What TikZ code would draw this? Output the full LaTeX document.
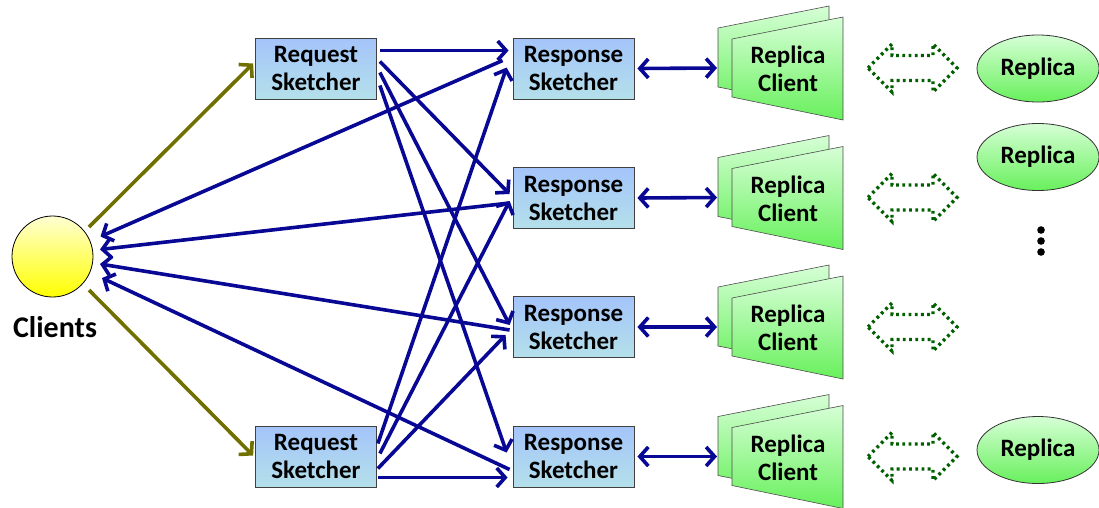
\documentclass[tikz,border=0pt]{standalone}
\usepackage{fontspec}
\setmainfont{Carlito}
\usetikzlibrary{arrows.meta,calc,shapes.geometric}

\definecolor{boxtop}{RGB}{164,196,250}
\definecolor{boxbot}{RGB}{180,224,234}
\definecolor{navy}{RGB}{8,8,148}
\definecolor{olivearrow}{RGB}{112,112,0}
\definecolor{greentop}{RGB}{214,255,214}
\definecolor{greenbot}{RGB}{104,240,92}
\definecolor{dotgreen}{RGB}{0,96,0}
\definecolor{sunlight}{RGB}{255,255,210}
\definecolor{sunyellow}{RGB}{255,255,0}

\tikzset{
  lbl/.style={font=\bfseries\fontsize{25}{28}\selectfont, align=center, inner sep=0pt},
  sketchbox/.style={lbl, draw=black!75, line width=0.8pt,
    top color=boxtop, bottom color=boxbot,
    minimum width=121pt, minimum height=61pt},
  barb/.tip={Straight Barb[length=8.5pt,width=19pt,line width=3.6pt]},
  bl/.style={draw=navy, line width=3.6pt, -barb},
  blboth/.style={draw=navy, line width=3.6pt, barb-barb},
  ol/.style={draw=olivearrow, line width=3.6pt,
    -{Straight Barb[length=8.5pt,width=19pt,line width=3.6pt]}},
  panel/.style={draw=black!70, line width=0.6pt, top color=greentop, bottom color=greenbot},
  replicanode/.style={lbl, ellipse, draw=black!80, line width=0.8pt,
    top color=greentop, bottom color=greenbot,
    minimum width=122pt, minimum height=67pt},
  dotarrow/.style={draw=dotgreen, line width=3.4pt, dash pattern=on 2.8pt off 3.4pt},
}

\begin{document}
\begin{tikzpicture}[x=1pt,y=-1pt]
\useasboundingbox (0,0) rectangle (1099,507);

% clients
\node[circle, draw=black, line width=0.8pt, top color=sunlight, bottom color=sunyellow,
      minimum size=81pt, inner sep=0pt] (cl) at (52.5,256.5) {};
\node[lbl, font=\bfseries\fontsize{30}{32}\selectfont] (cltext) at (55,327) {Clients};

% request sketchers
\node[sketchbox] (rq1) at (316,68.5) {Request\\Sketcher};
\node[sketchbox] (rq2) at (316,456.5) {Request\\Sketcher};

% response sketchers
\node[sketchbox] (rs1) at (573.5,68.5) {Response\\Sketcher};
\node[sketchbox] (rs2) at (573.5,198) {Response\\Sketcher};
\node[sketchbox] (rs3) at (573.5,327) {Response\\Sketcher};
\node[sketchbox] (rs4) at (573.5,456.5) {Response\\Sketcher};

% replica clients: two stacked panels each
\foreach \c/\n in {68/1,197.5/2,327/3,456.5/4}{
  \draw[panel] (718,\c-40) -- (829,\c-62) -- (829,\c+41) -- (718,\c+19) -- cycle;
  \draw[panel] (732,\c-29) -- (843,\c-51) -- (843,\c+52) -- (732,\c+29) -- cycle;
  \node[lbl] (rc\n) at (788,\c+1) {Replica\\Client};
  \coordinate (rcin\n) at (717,\c);
  % dotted double arrow towards the replicas
  \draw[dotarrow] (868,\c) -- (892,\c-24) -- (892,\c-12.5) -- (933,\c-12.5) -- (933,\c-24)
     -- (957,\c) -- (933,\c+24) -- (933,\c+12.5) -- (892,\c+12.5) -- (892,\c+24) -- cycle;
}

% replicas
\node[replicanode] (rp1) at (1038,68.5) {Replica};
\node[replicanode] (rp2) at (1038,157) {Replica};
\node[replicanode] (rp3) at (1038,450) {Replica};
\fill (1041,230) circle (3.8) (1041,241) circle (3.8) (1041,252) circle (3.8);

% clients to request sketchers
\draw[ol] ($(cl.center)+(36.5,-29.5)$) -- ($(rq1.west)+(-2,-5)$);
\draw[ol] ($(cl.center)+(36.5,33.5)$) -- ($(rq2.west)+(-2,-1)$);

% upper request sketcher to every response sketcher
\draw[bl] ($(rq1.east)+(3,-18)$) -- ($(rs1.west)+(-4,-18)$);
\draw[bl] ($(rq1.east)+(3,-7)$) -- ($(rs2.west)+(-3,-4)$);
\draw[bl] ($(rq1.east)+(3,4)$) -- ($(rs3.west)+(-3,-2)$);
\draw[bl] ($(rq1.east)+(3,17)$) -- ($(rs4.west)+(-6,-4)$);

% lower request sketcher to every response sketcher
\draw[bl] ($(rq2.east)+(1,-13)$) -- ($(rs1.west)+(-6,-1)$);
\draw[bl] ($(rq2.east)+(3,-3)$) -- ($(rs2.west)+(-3,3)$);
\draw[bl] ($(rq2.east)+(1,12)$) -- ($(rs3.west)+(-7,8)$);
\draw[bl] ($(rq2.east)+(1,21)$) -- ($(rs4.west)+(-5,21)$);

% response sketchers back to the clients
\draw[bl] ($(rs1.west)+(-10,-8)$) -- ($(cl.center)+(48,-20)$);
\draw[bl] ($(rs2.west)+(-3,5)$) -- ($(cl.center)+(47.5,-7)$);
\draw[bl] ($(rs3.west)+(-3,3)$) -- ($(cl.center)+(47.5,7.5)$);
\draw[bl] ($(rs4.west)+(-3,13)$) -- ($(cl.center)+(49.5,21.5)$);

% response sketchers to replica clients
\draw[blboth] ($(rs1.east)+(3,0)$) -- (rcin1);
\draw[blboth] ($(rs2.east)+(3,0)$) -- (rcin2);
\draw[blboth] ($(rs3.east)+(3,0)$) -- (rcin3);
\draw[blboth] ($(rs4.east)+(3,0)$) -- (rcin4);
\end{tikzpicture}
\end{document}
